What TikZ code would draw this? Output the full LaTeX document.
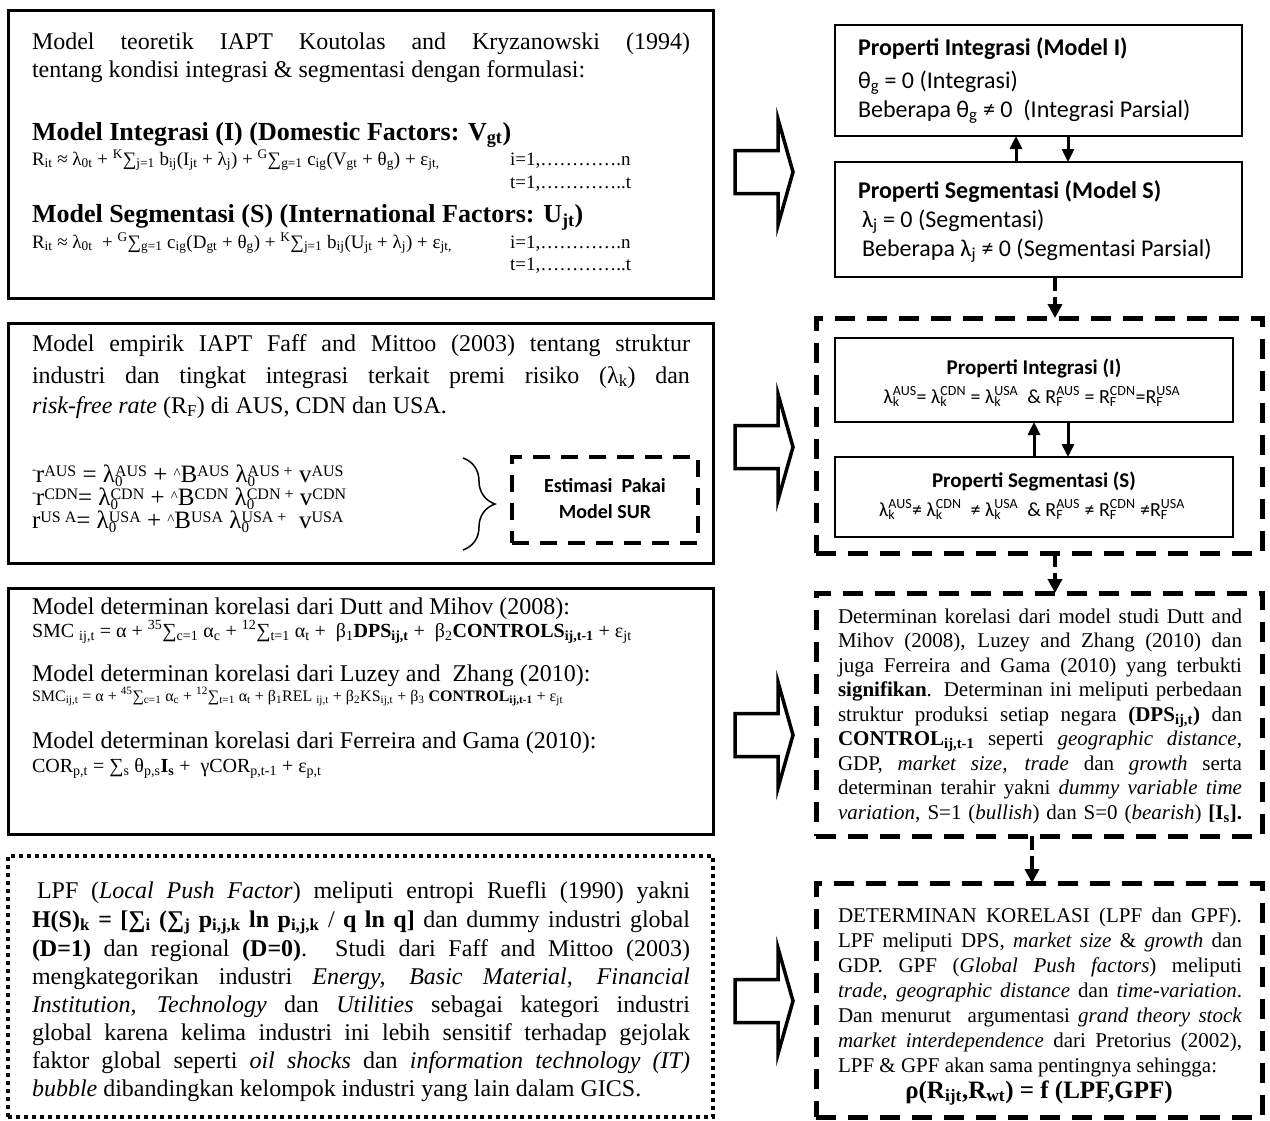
\documentclass[tikz,border=0pt]{standalone}
\usepackage{fontspec}
\setmainfont{Liberation Serif}
\newfontfamily\cfont{Carlito}
\usetikzlibrary{arrows.meta,decorations.pathreplacing}
\newcommand\Up[1]{\textsuperscript{#1}}
\newcommand\Dn[1]{\textsubscript{#1}}
\newcommand\SubSup[2]{\rlap{\textsubscript{#1}}\textsuperscript{#2}}
\newcommand\ft[1]{\fontsize{#1}{#1}\selectfont}
\newcommand\J[2]{\makebox[#1pt][s]{#2}}
\newcommand\EU[1]{\raisebox{6pt}{\ft{16}#1}}
\newcommand\ED[1]{\raisebox{-4pt}{\ft{15}#1}}
\newcommand\EDU[2]{\rlap{\ED{#1}}\EU{#2}}
\newcommand\Bar{\raisebox{9pt}{\ft{12}-}}
\newcommand\Hat{\raisebox{4pt}{\ft{15}\textasciicircum}}
\begin{document}
\begin{tikzpicture}[x=1pt,y=-1pt,
  T/.style={inner sep=0pt, outer sep=0pt, anchor=base west},
  TC/.style={inner sep=0pt, outer sep=0pt, anchor=base},
  box/.style={draw, line width=3pt, inner sep=0pt, outer sep=0pt, anchor=north west},
  rbox/.style={draw, line width=2.5pt, inner sep=0pt, outer sep=0pt, anchor=north west},
  dbox/.style={draw, line width=5pt, dash pattern=on 20pt off 12pt, inner sep=0pt, outer sep=0pt, anchor=north west},
  surbox/.style={draw, line width=4pt, dash pattern=on 17pt off 11pt, inner sep=0pt, outer sep=0pt, anchor=north west},
  dotbox/.style={draw, line width=4.5pt, dash pattern=on 4pt off 4pt, inner sep=0pt, outer sep=0pt, anchor=north west},
  blockarrow/.style={draw, line width=3.5pt, line join=miter, fill=white},
  sarr/.style={line width=3pt, -{Triangle[length=13pt,width=12pt]}},
  darr/.style={line width=4pt, dash pattern=on 14pt off 6pt, -{Triangle[length=14pt,width=14pt]}},
]
\fill[white] (0,0) rectangle (1270,1120);
\useasboundingbox (0,0) rectangle (1270,1120);

% ---------- left boxes ----------
\node[box, minimum width=705pt, minimum height=288pt] (b1) at (8,10) {};
\node[box, minimum width=705pt, minimum height=240pt] (b2) at (8,323) {};
\node[surbox, minimum width=186pt, minimum height=86pt] (sur) at (512,457) {};
\node[box, minimum width=705pt, minimum height=246pt] (b3) at (8,588) {};
\node[dotbox, minimum width=705pt, minimum height=261pt] (b4) at (8,856) {};

% ---------- right boxes ----------
\node[rbox, minimum width=407pt, minimum height=111pt] (PI) at (835,25) {};
\node[rbox, minimum width=407pt, minimum height=115pt] (PS) at (835,162) {};
\node[dbox, minimum width=446pt, minimum height=235pt] (A) at (816,318) {};
\node[rbox, minimum width=398pt, minimum height=84pt] (AI) at (835,338) {};
\node[rbox, minimum width=398pt, minimum height=80pt] (AS) at (835,457) {};
\node[dbox, minimum width=446pt, minimum height=243pt] (B) at (816,593) {};
\node[dbox, minimum width=446pt, minimum height=234pt] (C) at (816,883) {};

% ---------- block arrows ----------
\foreach \c in {172,447,735,1001}{
  \draw[blockarrow] (735,\c-21.5) -- (778,\c-21.5) -- (778,\c-53) -- (793,\c) -- (778,\c+53) -- (778,\c+21.5) -- (735,\c+21.5) -- cycle;
}

% ---------- connectors ----------
\draw[sarr] ([xshift=-22.5pt]PS.north) -- ([xshift=-22.5pt]PI.south);
\draw[sarr] ([xshift=29.5pt]PI.south) -- ([xshift=29.5pt]PS.north);
\draw[sarr] (AS.north) -- (AI.south);
\draw[sarr] ([xshift=34pt]AI.south) -- ([xshift=34pt]AS.north);
\draw[darr] ([xshift=16.5pt]PS.south) -- ([xshift=16.5pt]PS.south |- A.north);
\draw[darr] ([xshift=16pt]A.south) -- ([xshift=16pt]A.south |- B.north);
\draw[darr] ([xshift=-7pt]B.south) -- ([xshift=-7pt]B.south |- C.north);

% ---------- box 1 text ----------
\node[T, font=\ft{24}] (t1a) at (32,49) {\J{658}{Model teoretik IAPT Koutolas and Kryzanowski (1994)}};
\node[T, font=\ft{24}] (t1b) at (32,77) {tentang kondisi integrasi \& segmentasi dengan formulasi:};
\node[T, font=\ft{26}\bfseries] (t1c) at (32,140) {Model Integrasi (I) (Domestic Factors: V\Dn{gt})};
\node[T, font=\ft{19}] (t1d) at (32,165) {R\Dn{it} ≈ λ\Dn{0t} + \Up{K}∑\Dn{j=1} b\Dn{ij}(I\Dn{jt} + λ\Dn{j}) + \Up{G}∑\Dn{g=1} c\Dn{ig}(V\Dn{gt} + θ\Dn{g}) + ε\Dn{jt,}};
\node[T, font=\ft{19}] (t1e) at (510,165) {i=1,………….n};
\node[T, font=\ft{19}] (t1f) at (510,188) {t=1,…………..t};
\node[T, font=\ft{26}\bfseries] (t1g) at (32,222) {Model Segmentasi (S) (International Factors: U\Dn{jt})};
\node[T, font=\ft{19}] (t1h) at (32,248) {R\Dn{it} ≈ λ\Dn{0t} ~+ \Up{G}∑\Dn{g=1} c\Dn{ig}(D\Dn{gt} + θ\Dn{g}) + \Up{K}∑\Dn{j=1} b\Dn{ij}(U\Dn{jt} + λ\Dn{j}) + ε\Dn{jt,}};
\node[T, font=\ft{19}] (t1i) at (510,248) {i=1,………….n};
\node[T, font=\ft{19}] (t1j) at (510,270) {t=1,…………..t};

% ---------- box 2 text ----------
\node[T, font=\ft{24}] (t2a) at (32,351) {\J{658}{Model empirik IAPT Faff and Mittoo (2003) tentang struktur}};
\node[T, font=\ft{24}] (t2b) at (32,383) {\J{658}{industri dan tingkat integrasi terkait premi risiko (λ\Dn{k}) dan}};
\node[T, font=\ft{24}] (t2c) at (32,413) {\textit{risk-free rate} (R\Dn{F}) di AUS, CDN dan USA.};
\node[T, font=\ft{25}] (e1) at (32,482) {\Bar r\EU{AUS} = λ\EDU{0}{AUS} + \Hat B\EU{AUS} λ\EDU{0}{AUS +} v\EU{AUS}};
\node[T, font=\ft{25}] (e2) at (32,505) {\Bar r\EU{CDN}= λ\EDU{0}{CDN} + \Hat B\EU{CDN} λ\EDU{0}{CDN +} v\EU{CDN}};
\node[T, font=\ft{25}] (e3) at (32,528) {r\EU{US A}= λ\EDU{0}{USA} + \Hat B\EU{USA} λ\EDU{0}{USA +} ~v\EU{USA}};
\draw[line width=1.5pt, decorate, decoration={brace, amplitude=32pt, aspect=0.5}] (463,458) -- (463,550);
\node[TC, font=\cfont\ft{20}\bfseries] (s1) at (605,492) {Estimasi ~Pakai};
\node[TC, font=\cfont\ft{20}\bfseries] (s2) at (605,518) {Model SUR};

% ---------- box 3 text ----------
\node[T, font=\ft{24}] (t3a) at (32,614) {Model determinan korelasi dari Dutt and Mihov (2008):};
\node[T, font=\ft{20}] (t3b) at (32,637) {SMC \Dn{ij,t} = α + \Up{35}∑\Dn{c=1} α\Dn{c} + \Up{12}∑\Dn{t=1} α\Dn{t} + ~β\Dn{1}\textbf{DPS\Dn{ij,t}} + ~β\Dn{2}\textbf{CONTROLS\Dn{ij,t-1}} + ε\Dn{jt}};
\node[T, font=\ft{24}] (t3c) at (32,681) {Model determinan korelasi dari Luzey and ~Zhang (2010):};
\node[T, font=\ft{16}] (t3d) at (32,701) {SMC\Dn{ij,t} = α + \Up{45}∑\Dn{c=1} α\Dn{c} + \Up{12}∑\Dn{t=1} α\Dn{t} + β\Dn{1}REL \Dn{ij,t} + β\Dn{2}KS\Dn{ij,t} + β\Dn{3} \textbf{CONTROL\Dn{ij,t-1}} + ε\Dn{jt}};
\node[T, font=\ft{24}] (t3e) at (32,748) {Model determinan korelasi dari Ferreira and Gama (2010):};
\node[T, font=\ft{20}] (t3f) at (32,772) {COR\Dn{p,t} = ∑\Dn{s} θ\Dn{p,s}\textbf{I\Dn{s}} + ~γCOR\Dn{p,t-1} + ε\Dn{p,t}};

% ---------- box 4 text ----------
\node[T, font=\ft{24}] (t4a) at (37,898) {\J{653}{LPF (\textit{Local Push Factor}) meliputi entropi Ruefli (1990) yakni}};
\node[T, font=\ft{24}] (t4b) at (32,927) {\J{658}{\textbf{H(S)\Dn{k} = [∑\Dn{i} (∑\Dn{j} p\Dn{i,j,k} ln p\Dn{i,j,k}} / \textbf{q ln q]} dan dummy industri global}};
\node[T, font=\ft{24}] (t4c) at (32,956) {\J{658}{\textbf{(D=1)} dan regional \textbf{(D=0)}. Studi dari Faff and Mittoo (2003)}};
\node[T, font=\ft{24}] (t4d) at (32,984) {\J{658}{mengkategorikan industri \textit{Energy, Basic Material, Financial}}};
\node[T, font=\ft{24}] (t4e) at (32,1012) {\J{658}{\textit{Institution, Technology} dan \textit{Utilities} sebagai kategori industri}};
\node[T, font=\ft{24}] (t4f) at (32,1040) {\J{658}{global karena kelima industri ini lebih sensitif terhadap gejolak}};
\node[T, font=\ft{24}] (t4g) at (32,1068) {\J{658}{faktor global seperti \textit{oil shocks} dan \textit{information technology (IT)}}};
\node[T, font=\ft{24}] (t4h) at (32,1096) {\textit{bubble} dibandingkan kelompok industri yang lain dalam GICS.};

% ---------- PI / PS text ----------
\node[T, font=\cfont\ft{24}\bfseries] (p1) at (858,55) {Properti Integrasi (Model I)};
\node[T, font=\cfont\ft{24}] (p2) at (858,88) {θ\Dn{g} = 0 (Integrasi)};
\node[T, font=\cfont\ft{24}] (p3) at (858,117) {Beberapa θ\Dn{g} ≠ 0 ~(Integrasi Parsial)};
\node[T, font=\cfont\ft{24}\bfseries] (q1) at (858,198) {Properti Segmentasi (Model S)};
\node[T, font=\cfont\ft{24}] (q2) at (862,227) {λ\Dn{j} = 0 (Segmentasi)};
\node[T, font=\cfont\ft{24}] (q3) at (862,256) {Beberapa λ\Dn{j} ≠ 0 (Segmentasi Parsial)};

% ---------- inner A text ----------
\node[TC, font=\cfont\ft{21}\bfseries] (a1) at (1034,374) {Properti Integrasi (I)};
\node[TC, font=\cfont\ft{20}] (a2) at (1032,403) {λ\SubSup{k}{AUS}= λ\SubSup{k}{CDN} = λ\SubSup{k}{USA} ~\& R\SubSup{F}{AUS} = R\SubSup{F}{CDN}=R\SubSup{F}{USA}};
\node[TC, font=\cfont\ft{21}\bfseries] (a3) at (1034,487) {Properti Segmentasi (S)};
\node[TC, font=\cfont\ft{20}] (a4) at (1032,516) {λ\SubSup{k}{AUS}≠ λ\SubSup{k}{CDN} ~≠ λ\SubSup{k}{USA} ~\& R\SubSup{F}{AUS} ≠ R\SubSup{F}{CDN} ≠R\SubSup{F}{USA}};

% ---------- box B text ----------
\node[T, font=\ft{21}] (bb1) at (838,623) {\J{404}{Determinan korelasi dari model studi Dutt and}};
\node[T, font=\ft{21}] (bb2) at (838,647.5) {\J{404}{Mihov (2008), Luzey and Zhang (2010) dan}};
\node[T, font=\ft{21}] (bb3) at (838,672) {\J{404}{juga Ferreira and Gama (2010) yang terbukti}};
\node[T, font=\ft{21}] (bb4) at (838,696.5) {\J{404}{\textbf{signifikan}. Determinan ini meliputi perbedaan}};
\node[T, font=\ft{21}] (bb5) at (838,721) {\J{404}{struktur produksi setiap negara \textbf{(DPS\Dn{ij,t})} dan}};
\node[T, font=\ft{21}] (bb6) at (838,745.5) {\J{404}{\textbf{CONTROL\Dn{ij,t-1}} seperti \textit{geographic distance},}};
\node[T, font=\ft{21}] (bb7) at (838,770) {\J{404}{GDP, \textit{market size, trade} dan \textit{growth} serta}};
\node[T, font=\ft{21}] (bb8) at (838,794.5) {\J{404}{determinan terahir yakni \textit{dummy variable time}}};
\node[T, font=\ft{21}] (bb9) at (838,819) {\J{404}{\textit{variation}, S=1 (\textit{bullish}) dan S=0 (\textit{bearish}) \textbf{[I\Dn{s}].}}};

% ---------- box C text ----------
\node[T, font=\ft{21}] (cc1) at (838,922) {\J{404}{DETERMINAN KORELASI (LPF dan GPF).}};
\node[T, font=\ft{21}] (cc2) at (838,947) {\J{404}{LPF meliputi DPS, \textit{market size} \& \textit{growth} dan}};
\node[T, font=\ft{21}] (cc3) at (838,972) {\J{404}{GDP. GPF (\textit{Global Push factors}) meliputi}};
\node[T, font=\ft{21}] (cc4) at (838,997) {\J{404}{\textit{trade}, \textit{geographic distance} dan \textit{time-variation}.}};
\node[T, font=\ft{21}] (cc5) at (838,1022) {\J{404}{Dan menurut ~argumentasi \textit{grand theory stock}}};
\node[T, font=\ft{21}] (cc6) at (838,1047) {\J{404}{\textit{market interdependence} dari Pretorius (2002),}};
\node[T, font=\ft{21}] (cc7) at (838,1072) {LPF \& GPF akan sama pentingnya sehingga:};
\node[TC, font=\ft{25}\bfseries] (cc8) at (1039,1098) {ρ(R\Dn{ijt},R\Dn{wt}) = f (LPF,GPF)};
\end{tikzpicture}
\end{document}
